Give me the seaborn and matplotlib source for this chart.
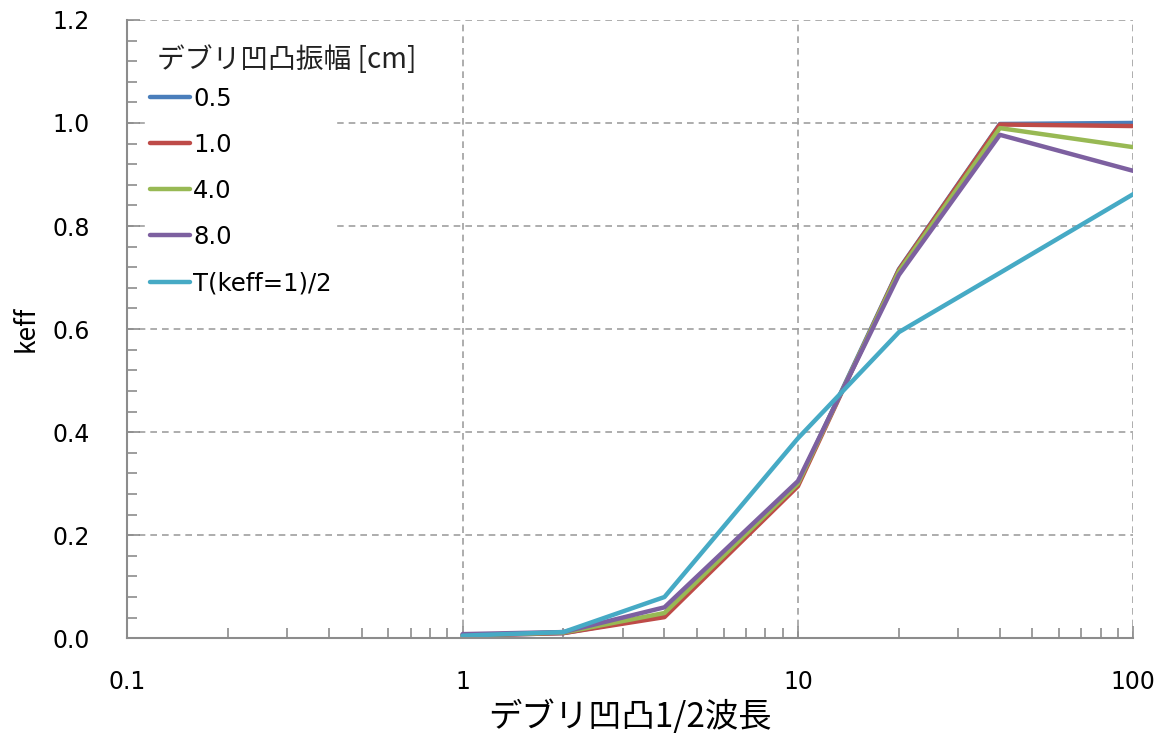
import numpy as np
import pandas as pd
import matplotlib
matplotlib.use("Agg")
import matplotlib.pyplot as plt
from matplotlib.ticker import LogLocator, MultipleLocator, FixedLocator, FixedFormatter
import seaborn as sns

# Half wavelength of debris surface roughness
half_wavelength = [1, 2, 4, 10, 20, 40, 100]

# keff for each roughness amplitude [cm]
keff_05 = [0.005, 0.010, 0.044, 0.300, 0.716, 0.998, 1.000]
keff_10 = [0.005, 0.010, 0.041, 0.295, 0.715, 0.997, 0.994]
keff_40 = [0.006, 0.011, 0.049, 0.300, 0.712, 0.990, 0.953]
keff_80 = [0.008, 0.012, 0.060, 0.305, 0.705, 0.977, 0.907]
keff_half_t = [0.005, 0.012, 0.080, 0.388, 0.594, 0.709, 0.862]

series_names = ["0.5", "1.0", "4.0", "8.0", "T(keff=1)/2"]
series_values = [keff_05, keff_10, keff_40, keff_80, keff_half_t]
series_colors = ["#4A7EBB", "#BE4B48", "#98B954", "#7D60A0", "#46AAC5"]

x_tick_values = [0.1, 1, 10, 100]
x_tick_labels = ["0.1", "1", "10", "100"]

frames = []
for name, vals in zip(series_names, series_values):
    frames.append(pd.DataFrame({"x": half_wavelength, "keff": vals, "series": name}))
df = pd.concat(frames, ignore_index=True)

sns.set_style("white")
plt.rcParams["font.family"] = ["DejaVu Sans", "Noto Sans CJK JP"]
plt.rcParams["text.color"] = "black"
plt.rcParams["axes.labelcolor"] = "black"
plt.rcParams["xtick.labelcolor"] = "black"
plt.rcParams["ytick.labelcolor"] = "black"
cjk_family = ["Noto Sans CJK JP", "DejaVu Sans"]

fig = plt.figure(figsize=(11.66, 7.37), dpi=100)
ax = fig.add_axes([0.109, 0.134, 0.863, 0.839])

sns.lineplot(data=df, x="x", y="keff", hue="series", hue_order=series_names,
             palette=series_colors, linewidth=3.2, ax=ax, sort=False,
             estimator=None, legend=True)

ax.set_xscale("log")
ax.set_xlim(0.1, 100)
ax.set_ylim(0, 1.2)

ax.xaxis.set_major_locator(FixedLocator(x_tick_values))
ax.xaxis.set_major_formatter(FixedFormatter(x_tick_labels))
ax.xaxis.set_minor_locator(LogLocator(base=10, subs=np.arange(2, 10)))
ax.xaxis.set_minor_formatter(plt.NullFormatter())
ax.yaxis.set_major_locator(MultipleLocator(0.2))
ax.yaxis.set_minor_locator(MultipleLocator(0.04))
ax.yaxis.set_major_formatter(plt.FuncFormatter(lambda v, p: f"{v:.1f}"))

grid_kw = dict(color="#A0A0A0", linestyle=(0, (4, 3)), linewidth=1.2)
ax.grid(True, which="major", axis="both", **grid_kw)

for side in ["top", "right"]:
    ax.spines[side].set_visible(False)
for side in ["left", "bottom"]:
    ax.spines[side].set_color("#8C8C8C")
    ax.spines[side].set_linewidth(1.5)

ax.tick_params(axis="both", which="both", direction="in", color="#8C8C8C",
               width=1.2, bottom=True, left=True, top=False, right=False)
ax.tick_params(axis="both", which="major", length=9, labelsize=17)
ax.tick_params(axis="both", which="minor", length=7)
ax.tick_params(axis="x", which="major", pad=23)
ax.tick_params(axis="y", which="major", pad=27)

ax.set_xlabel("デブリ凹凸1/2波長", fontsize=24, labelpad=4, family=cjk_family)
ax.set_ylabel("keff", fontsize=19, labelpad=9, family=cjk_family)

handles, labels = ax.get_legend_handles_labels()
leg = ax.legend(handles, labels, loc="upper left",
                bbox_to_anchor=(0.018, 0.9), frameon=True, fontsize=17.5,
                handlelength=1.65, handletextpad=0.12,
                labelspacing=0.91, borderpad=0.2, borderaxespad=0.0)
leg.get_frame().set_facecolor("white")
leg.get_frame().set_edgecolor("white")
leg.get_frame().set_alpha(1.0)
for line in leg.get_lines():
    line.set_linewidth(3.2)

ax.text(0.030, 0.935, "デブリ凹凸振幅 [cm]", transform=ax.transAxes,
        fontsize=20, va="center", ha="left", color="#222222",
        family=["Noto Sans CJK JP", "DejaVu Sans"])

fig.savefig("out.png", dpi=100, facecolor="white")
